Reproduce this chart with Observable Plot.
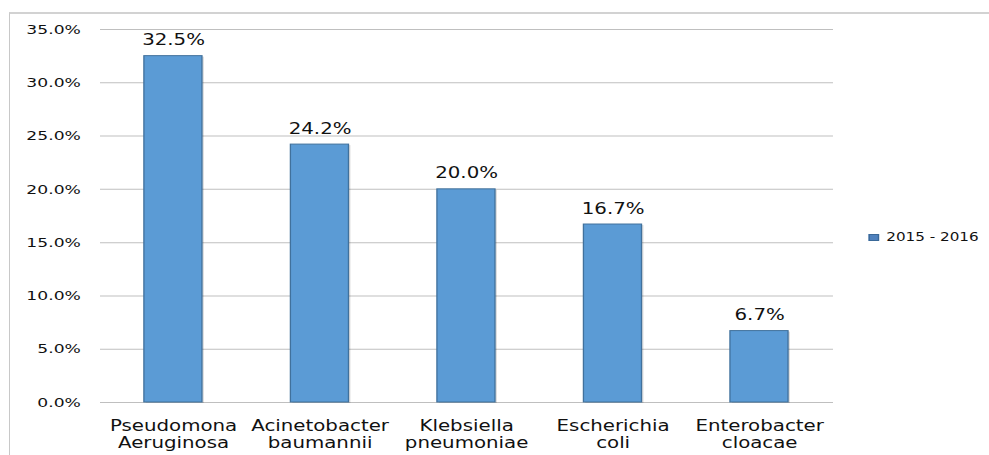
<!DOCTYPE html>
<html>
<head>
<meta charset="utf-8">
<script src="https://cdn.jsdelivr.net/npm/d3@7"></script>
<script src="https://cdn.jsdelivr.net/npm/@observablehq/plot@0.6"></script>
<style>
  body { margin: 0; background: #fff; }
  #wrap { position: relative; width: 989px; height: 455px; overflow: hidden; font-family: "DejaVu Sans", sans-serif; }
  #frame { position: absolute; left: 9px; top: 12px; width: 1000px; height: 500px;
           border-left: 1px solid #c8c8c8; border-top: 2px solid #d2d2d2; box-sizing: border-box; }
  /* the whole drawing is widened horizontally for its broad lettering */
  #stage { position: absolute; left: 0; top: 0; transform-origin: 0 0; }
  #legend { position: absolute; display: flex; align-items: center; font-size: 11.5px; color: #111; white-space: nowrap; }
  #legend .key { width: 7.6px; height: 7px; background: #4f81bd; border: 1px solid #3a6898; box-sizing: border-box; margin-right: 5.5px; }
</style>
</head>
<body>
<div id="wrap">
  <div id="frame"></div>
  <div id="stage"></div>
</div>
<script>
// Share of isolates per organism, 2015 - 2016
const seriesName = "2015 - 2016";
const organisms = [
  "Pseudomona\nAeruginosa",
  "Acinetobacter\nbaumannii",
  "Klebsiella\npneumoniae",
  "Escherichia\ncoli",
  "Enterobacter\ncloacae"
];
const rates = [0.325, 0.242, 0.200, 0.167, 0.067];
const yTicks = [0, 0.05, 0.10, 0.15, 0.20, 0.25, 0.30, 0.35];

const data = organisms.map((organism, i) => ({organism, rate: rates[i]}));
const pct = d3.format(".1%");

const S = 1.32;              // horizontal stretch of the drawing
const W = 989 / S;           // drawing width before stretching
const left = 100 / S, right = 833 / S;

const chart = Plot.plot({
  width: W,
  height: 455,
  marginLeft: left,
  marginRight: W - right,
  marginTop: 29,
  marginBottom: 53,
  style: {fontFamily: "DejaVu Sans, sans-serif", fontSize: "13px", color: "#111", background: "transparent", overflow: "visible"},
  x: {domain: organisms, paddingInner: 0.6, paddingOuter: 0.3, axis: null},
  y: {domain: [0, 0.35], axis: null},
  marks: [
    Plot.ruleY(yTicks, {stroke: "#bfbfbf", strokeWidth: 1}),
    Plot.axisY(yTicks, {tickSize: 0, tickPadding: 15, tickFormat: pct, fontSize: 13, label: null}),
    // soft shadow under each bar
    Plot.barY(data, {x: "organism", y: "rate", dx: 1.5, dy: 1, fill: "#000", fillOpacity: 0.13}),
    Plot.barY(data, {x: "organism", y: "rate", fill: "#5b9bd5", stroke: "#41719c", strokeWidth: 1}),
    Plot.text(data, {x: "organism", y: "rate", text: d => pct(d.rate), lineAnchor: "bottom", dy: -11, fontSize: 15, fill: "#111"}),
    Plot.text(data, {x: "organism", y: () => 0, text: "organism", lineAnchor: "top", dy: 16, fontSize: 15, lineHeight: 1.17, fill: "#111"})
  ]
});

const stage = document.getElementById("stage");
stage.style.transform = `scaleX(${S})`;
stage.appendChild(chart);

// legend entry for the single series
const legend = document.createElement("div");
legend.id = "legend";
legend.style.left = (869 / S) + "px";
legend.style.top = "230px";
legend.innerHTML = `<span class="key"></span><span>${seriesName}</span>`;
stage.appendChild(legend);
</script>
</body>
</html>
